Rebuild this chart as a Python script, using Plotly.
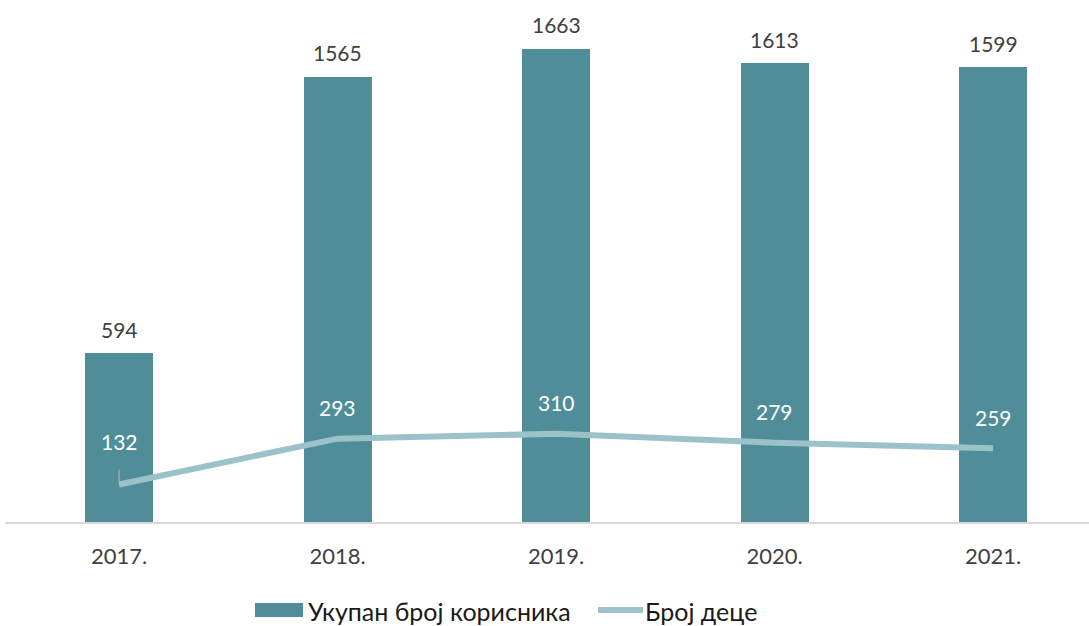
import plotly.graph_objects as go

years = ["2017.", "2018.", "2019.", "2020.", "2021."]
korisnici = [594, 1565, 1663, 1613, 1599]
deca = [132, 293, 310, 279, 259]

bar_color = "#4F8E98"
line_color = "#9BC2C8"
font_family = "Lato, 'Open Sans', sans-serif"

x = list(range(len(years)))

fig = go.Figure()
fig.add_trace(go.Bar(
    x=x, y=korisnici, width=0.311, marker=dict(color=bar_color, line=dict(width=0)),
    name="Укупан број корисника", hoverinfo="skip",
))
fig.add_trace(go.Scatter(
    x=x, y=deca, mode="lines", line=dict(color=line_color, width=6),
    name="Број деце", hoverinfo="skip",
))

# value labels above the bars
for i, v in enumerate(korisnici):
    fig.add_annotation(x=i, y=v, text=str(v), showarrow=False, yshift=24,
                       yanchor="middle",
                       font=dict(size=21, color="#404040", family=font_family))

# value labels for the line series (white, sitting inside the bars)
for i, v in enumerate(deca):
    shift = 43 if i == 0 else 31
    fig.add_annotation(x=i, y=v, text=str(v), showarrow=False, yshift=shift,
                       yanchor="middle",
                       font=dict(size=21, color="white", family=font_family))
# leader line for the first label
fig.add_shape(type="line", x0=0, x1=0, y0=deca[0] + 6, y1=deca[0] + 52,
              line=dict(color="#A6A6A6", width=1.5))

# legend drawn by hand
plot_h = 522
def py(px):
    return (plot_h - px) / plot_h
def px_(p):
    return (p - 5) / 1084

fig.add_shape(type="rect", xref="paper", yref="paper",
              x0=px_(255), x1=px_(303), y0=py(617), y1=py(603),
              fillcolor=bar_color, line=dict(width=0))
fig.add_annotation(xref="paper", yref="paper", x=px_(306), y=py(611),
                   xanchor="left", yanchor="middle", showarrow=False,
                   text="Укупан број корисника",
                   font=dict(size=25, color="#1a1a1a", family=font_family))
fig.add_shape(type="line", xref="paper", yref="paper",
              x0=px_(598), x1=px_(643), y0=py(610), y1=py(610),
              line=dict(color=line_color, width=6))
fig.add_annotation(xref="paper", yref="paper", x=px_(643), y=py(611),
                   xanchor="left", yanchor="middle", showarrow=False,
                   text="Број деце",
                   font=dict(size=25, color="#1a1a1a", family=font_family))

fig.update_layout(
    width=1089, height=626,
    margin=dict(l=5, r=0, t=0, b=104),
    paper_bgcolor="white", plot_bgcolor="white",
    showlegend=False, bargap=0,
    font=dict(family=font_family),
    xaxis=dict(range=[-0.522, 4.439], tickmode="array", tickvals=x, ticktext=years,
               showgrid=False, zeroline=False, showline=True, linecolor="#D9D9D9",
               linewidth=2, ticks="", ticklabelstandoff=14,
               tickfont=dict(size=22, color="#404040", family=font_family)),
    yaxis=dict(range=[0, 1835], visible=False, showgrid=False, zeroline=False),
)

fig.write_html("out.html")
